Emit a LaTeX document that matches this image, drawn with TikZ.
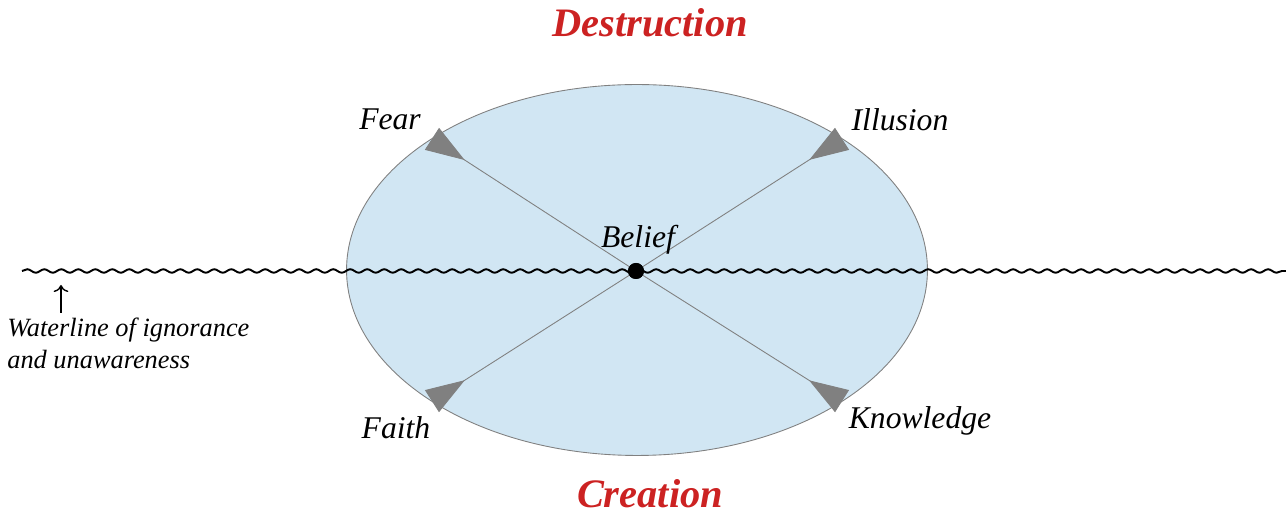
\documentclass[tikz,border=0pt]{standalone}
\usepackage{fontspec}
\setmainfont{Liberation Serif}
\usetikzlibrary{arrows.meta,positioning,shapes.geometric,decorations.pathmorphing,calc}
\definecolor{bred}{HTML}{CC2222}
\definecolor{bsea}{HTML}{D1E6F3}
\definecolor{bgray}{HTML}{808080}

\begin{document}
\begin{tikzpicture}[x=0.02cm, y=0.02cm,
    lbl/.style={font=\fontsize{18}{21}\selectfont\itshape, inner sep=0pt},
    pole/.style={font=\fontsize{23}{27}\selectfont\bfseries\itshape, text=bred, inner sep=0pt, anchor=base},
    ray/.style={bgray, line width=0.5pt, -{Triangle[reversed, length=0.78cm, width=0.52cm]}},
    wave/.style={line width=1.1pt, decorate, decoration={snake, amplitude=0.035cm, segment length=0.34cm}}
]
    \useasboundingbox (0,0) rectangle (1286,517);

    \node[ellipse, draw=bgray, fill=bsea, line width=0.5pt, minimum width=11.62cm, minimum height=7.42cm, inner sep=0pt] (oval) at (637,247) {};
    \node[circle, fill=black, minimum size=0.32cm, inner sep=0pt] (belief) at (636,246) {};

    % rays out to the rim
    \foreach \ang/\nm in {45/illusion,135/fear,225/faith,315/knowledge}
        \coordinate (\nm end) at ($(oval.center)+(\ang:290 and 185.5)$);
    \foreach \nm in {illusion,fear,faith,knowledge}
        \draw[ray] (belief) -- (\nm end);

    % waterline
    \coordinate (wlstart) at (22,246);
    \coordinate (wlend) at (1286,246);
    \draw[wave] (wlstart) -- (wlend);
    \node[circle, fill=black, minimum size=0.32cm, inner sep=0pt] at (belief) {};

    \node[lbl] (belieftext) at (638,277) {Belief};
    \node[lbl] (fear) at (390,398) {Fear};
    \node[lbl] (illusion) at (900,397) {Illusion};
    \node[lbl] (faith) at (396,89) {Faith};
    \node[lbl] (knowledge) at (920,96) {Knowledge};

    \node[pole] (destruction) at (650,480) {Destruction};
    \node[pole] (creation) at (650,9) {Creation};

    \node[font=\fontsize{15}{18}\selectfont\itshape, align=left, inner sep=0pt, anchor=north west] (wlabel) at (7,199) {Waterline of ignorance\\and unawareness};
    \coordinate (wlfoot) at (61,204);
    \coordinate (wltip) at (61,232);
    \draw[-{To[length=4pt]}, line width=0.8pt] (wlfoot) -- (wltip);
\end{tikzpicture}
\end{document}
